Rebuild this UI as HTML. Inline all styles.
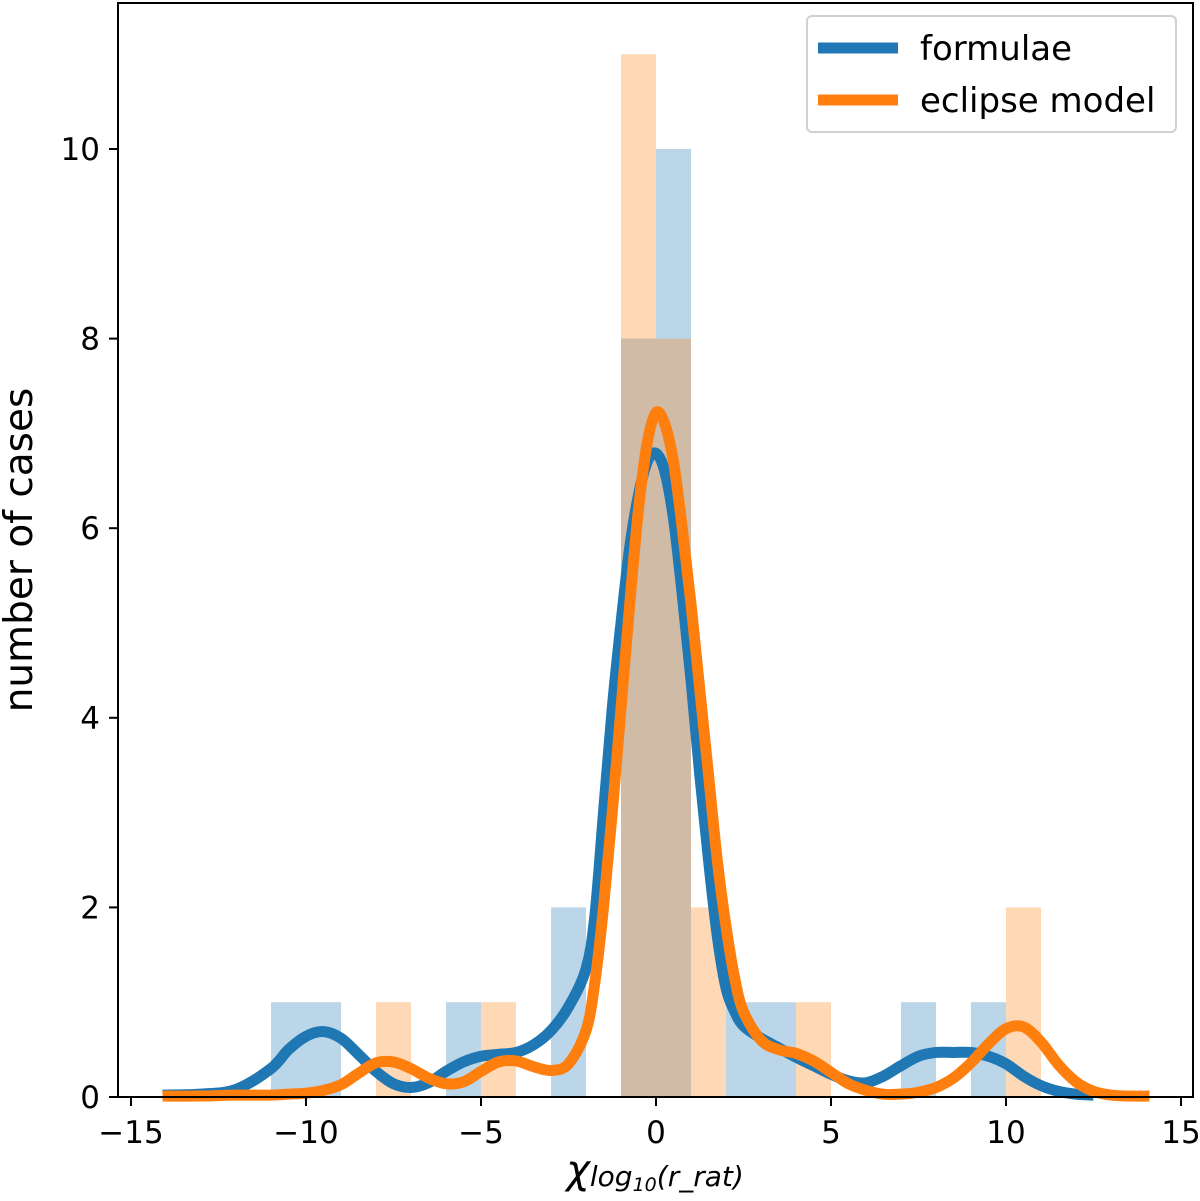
<!DOCTYPE html>
<html><head><meta charset="utf-8"><style>
html,body{margin:0;padding:0;background:#fff;}
svg{display:block;font-family:"DejaVu Sans","Liberation Sans",sans-serif;}
</style></head><body>
<svg id="chart" width="1200" height="1201" viewBox="0 0 1200 1201">
  <g id="bars"></g>
  <g id="lines"></g>
  <g id="axes"></g>
  <text x="655" y="1183" font-size="30" text-anchor="middle"><tspan font-style="italic" font-size="40">χ</tspan><tspan font-style="italic" font-size="28" dy="3">log</tspan><tspan font-style="italic" font-size="19" dy="5">10</tspan><tspan font-style="italic" font-size="28" dy="-5">(r_rat)</tspan></text>
  <text transform="translate(32,550) rotate(-90)" font-size="39" text-anchor="middle">number of cases</text>
  <g>
    <rect x="807" y="16" width="369" height="116" rx="5" fill="#fff" fill-opacity="0.8" stroke="#d0d0d0" stroke-width="2"/>
    <line x1="818" y1="48" x2="898" y2="48" stroke="#1f77b4" stroke-width="11"/>
    <text x="920" y="60" font-size="34">formulae</text>
    <line x1="818" y1="100" x2="898" y2="100" stroke="#ff7f0e" stroke-width="11"/>
    <text x="920" y="112" font-size="34">eclipse model</text>
  </g>
</svg>
<script>
const binsBlue = [-11,-10,-6,-3,-1,0,2,3,7,9];
const countsBlue = [1,1,1,2,8,10,1,1,1,1];
const binsOrange = [-8,-5,-1,0,1,4,10];
const countsOrange = [1,1,11,8,2,1,2];
const kdeX = [-14.1,-13,-12,-11,-10.5,-10,-9.5,-9,-8.5,-8,-7.5,-7,-6.5,-6,-5.5,-5,-4.5,-4,-3.5,-3,-2.5,-2,-1.75,-1.5,-1.25,-1,-0.75,-0.5,-0.25,0,0.25,0.5,0.75,1,1.25,1.5,1.75,2,2.25,2.5,3,3.5,4,4.5,5,5.5,6,6.5,7,7.5,8,8.5,9,9.5,10,10.5,11,11.5,12,12.5];
const kdeBlue = [0.02,0.03,0.08,0.3,0.5,0.64,0.69,0.62,0.45,0.27,0.14,0.1,0.15,0.27,0.37,0.43,0.45,0.47,0.55,0.7,0.95,1.35,1.9,3.0,4.1,5.0,5.8,6.35,6.7,6.79,6.6,6.1,5.3,4.4,3.4,2.5,1.7,1.15,0.9,0.75,0.62,0.52,0.42,0.33,0.24,0.17,0.15,0.22,0.33,0.43,0.47,0.47,0.47,0.43,0.35,0.22,0.12,0.06,0.03,0.02];
const kdeXOrange = [-14.1,-13,-12,-11,-10.5,-10,-9.5,-9,-8.5,-8,-7.5,-7,-6.5,-6,-5.5,-5,-4.5,-4,-3.5,-3,-2.5,-2,-1.75,-1.5,-1.25,-1,-0.75,-0.5,-0.25,0,0.25,0.5,0.75,1,1.25,1.5,1.75,2,2.25,2.5,3,3.5,4,4.5,5,5.5,6,6.5,7,7.5,8,8.5,9,9.5,10,10.5,11,11.5,12,12.5,13,13.5,14.1];
const kdeOrange = [0.01,0.01,0.02,0.02,0.03,0.04,0.07,0.13,0.25,0.36,0.37,0.3,0.2,0.14,0.16,0.27,0.37,0.38,0.32,0.28,0.35,0.7,1.2,2.0,3.0,4.1,5.2,6.2,6.9,7.22,7.1,6.7,6.0,5.2,4.3,3.4,2.5,1.8,1.25,0.9,0.6,0.5,0.46,0.38,0.26,0.14,0.07,0.03,0.03,0.05,0.1,0.2,0.36,0.56,0.72,0.74,0.58,0.34,0.16,0.06,0.02,0.01,0.01];
const xTicks = [-15,-10,-5,0,5,10,15];
const yTicks = [0,2,4,6,8,10];

const NS = "http://www.w3.org/2000/svg";
const L=118,R=1193,T=3,B=1097;
const sx = v => 656 + v*35.0;
const sy = v => B - v*94.8;
function mk(tag, attrs, parent){const e=document.createElementNS(NS,tag);for(const k in attrs)e.setAttribute(k,attrs[k]);parent.appendChild(e);return e;}
const bars=document.getElementById('bars'), lines=document.getElementById('lines'), axes=document.getElementById('axes');
binsBlue.forEach((b,i)=>{
  const r=mk('rect',{x:sx(b),y:sy(countsBlue[i]),width:sx(b+1)-sx(b),height:B-sy(countsBlue[i]),fill:'#1f77b4','fill-opacity':0.3},bars);
  
  
});
binsOrange.forEach((b,i)=>{
  const r=mk('rect',{x:sx(b),y:sy(countsOrange[i]),width:sx(b+1)-sx(b),height:B-sy(countsOrange[i]),fill:'#ff7f0e','fill-opacity':0.3},bars);
  
  
});
function smooth(xs,ys){
  const p=xs.map((x,i)=>[sx(x),sy(ys[i])]);
  let d='M'+p[0][0]+','+p[0][1];
  for(let i=0;i<p.length-1;i++){
    const p0=p[i-1]||p[i],p1=p[i],p2=p[i+1],p3=p[i+2]||p2;
    const c1=[p1[0]+(p2[0]-p0[0])/6,p1[1]+(p2[1]-p0[1])/6];
    const c2=[p2[0]-(p3[0]-p1[0])/6,p2[1]-(p3[1]-p1[1])/6];
    d+=' C'+c1[0]+','+c1[1]+' '+c2[0]+','+c2[1]+' '+p2[0]+','+p2[1];
  }
  return d;
}
const lb=mk('path',{d:smooth(kdeX,kdeBlue),fill:'none',stroke:'#1f77b4','stroke-width':11,'stroke-linejoin':'round'},lines);


const lo=mk('path',{d:smooth(kdeXOrange,kdeOrange),fill:'none',stroke:'#ff7f0e','stroke-width':11,'stroke-linejoin':'round'},lines);


const frame=mk('rect',{x:L,y:T,width:R-L,height:B-T,fill:'none',stroke:'#000','stroke-width':2},axes);


xTicks.forEach(t=>{
  const ln=mk('line',{x1:sx(t),x2:sx(t),y1:B,y2:B+9,stroke:'#000','stroke-width':2},axes);
  
  
  const tx=mk('text',{x:sx(t),y:B+46,'font-size':31,'text-anchor':'middle'},axes);
  tx.textContent=t<0?'\u2212'+Math.abs(t):String(t);
  
  
});
yTicks.forEach(t=>{
  const ln=mk('line',{x1:L-9,x2:L,y1:sy(t),y2:sy(t),stroke:'#000','stroke-width':2},axes);
  
  
  const tx=mk('text',{x:L-18,y:sy(t)+11,'font-size':31,'text-anchor':'end'},axes);
  tx.textContent=String(t);
  
  
});
</script>
</body></html>
